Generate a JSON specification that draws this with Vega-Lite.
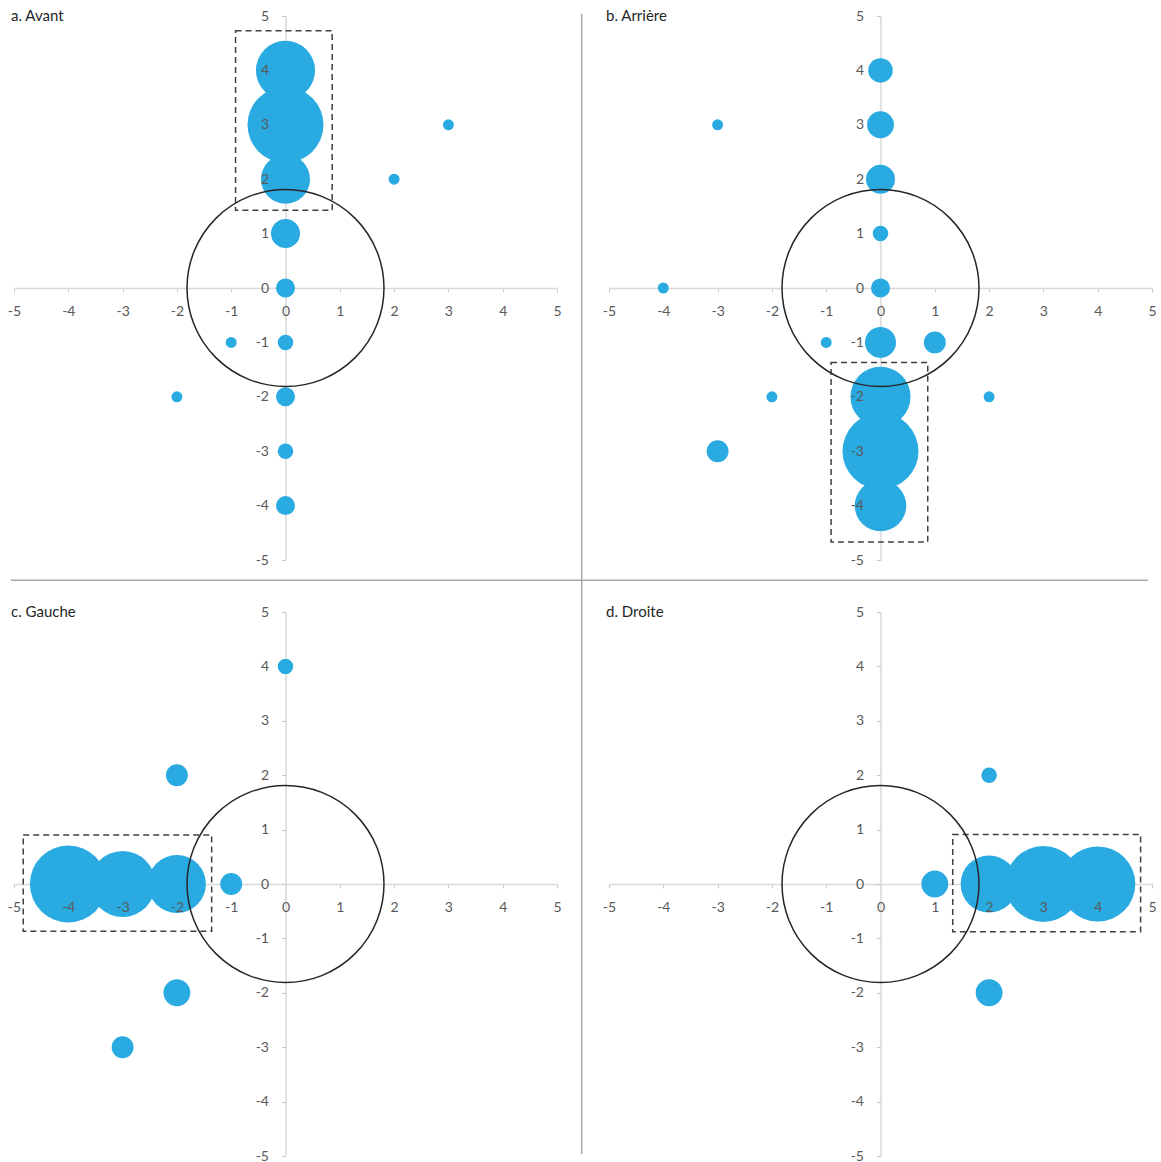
{
  "$schema": "https://vega.github.io/schema/vega-lite/v6.json",
  "autosize": {"type": "pad"},
  "padding": {"left": 7, "top": 9, "right": 0, "bottom": 0},
  "background": "white",
  "config": {
    "view": {"stroke": null},
    "font": "Lato",
    "title": {"anchor": "start", "frame": "group", "font": "Lato", "fontSize": 15, "fontWeight": "normal", "color": "#262626", "baseline": "top", "offset": -15, "dx": -3},
    "axis": {"grid": false, "title": null, "labelFont": "Lato", "labelFontSize": 14, "labelColor": "#595959", "labelOverlap": false, "labelFlush": false, "labelBound": false, "labelExpr": "'' + datum.value", "domainColor": "#d9d9d9", "domainWidth": 1.5, "tickColor": "#c8c8c8", "tickWidth": 1, "tickSize": 4}
  },
  "datasets": {
    "bubbles": [
      {"p": "a", "x": 0, "y": 4, "n": 29}, {"p": "a", "x": 0, "y": 3, "n": 48}, {"p": "a", "x": 0, "y": 2, "n": 20},
      {"p": "a", "x": 0, "y": 1, "n": 7}, {"p": "a", "x": 0, "y": 0, "n": 3}, {"p": "a", "x": 0, "y": -1, "n": 2},
      {"p": "a", "x": 0, "y": -2, "n": 3}, {"p": "a", "x": 0, "y": -3, "n": 2}, {"p": "a", "x": 0, "y": -4, "n": 3},
      {"p": "a", "x": 2, "y": 2, "n": 1}, {"p": "a", "x": 3, "y": 3, "n": 1}, {"p": "a", "x": -1, "y": -1, "n": 1},
      {"p": "a", "x": -2, "y": -2, "n": 1},
      {"p": "b", "x": 0, "y": 4, "n": 5}, {"p": "b", "x": 0, "y": 3, "n": 6}, {"p": "b", "x": 0, "y": 2, "n": 7},
      {"p": "b", "x": 0, "y": 1, "n": 2}, {"p": "b", "x": 0, "y": 0, "n": 3}, {"p": "b", "x": -3, "y": 3, "n": 1},
      {"p": "b", "x": -4, "y": 0, "n": 1}, {"p": "b", "x": 0, "y": -1, "n": 8}, {"p": "b", "x": 1, "y": -1, "n": 4},
      {"p": "b", "x": -1, "y": -1, "n": 1}, {"p": "b", "x": -2, "y": -2, "n": 1}, {"p": "b", "x": 2, "y": -2, "n": 1},
      {"p": "b", "x": -3, "y": -3, "n": 4}, {"p": "b", "x": 0, "y": -2, "n": 30}, {"p": "b", "x": 0, "y": -3, "n": 48},
      {"p": "b", "x": 0, "y": -4, "n": 22},
      {"p": "c", "x": 0, "y": 4, "n": 2}, {"p": "c", "x": -2, "y": 2, "n": 4}, {"p": "c", "x": -1, "y": 0, "n": 4},
      {"p": "c", "x": -2, "y": 0, "n": 28}, {"p": "c", "x": -3, "y": 0, "n": 36}, {"p": "c", "x": -4, "y": 0, "n": 49},
      {"p": "c", "x": -2, "y": -2, "n": 6}, {"p": "c", "x": -3, "y": -3, "n": 4},
      {"p": "d", "x": 1, "y": 0, "n": 6}, {"p": "d", "x": 2, "y": 0, "n": 27}, {"p": "d", "x": 3, "y": 0, "n": 48},
      {"p": "d", "x": 4, "y": 0, "n": 47}, {"p": "d", "x": 2, "y": 2, "n": 2}, {"p": "d", "x": 2, "y": -2, "n": 6}
    ],
    "zones": [
      {"p": "a", "x0": -0.92, "x1": 0.86, "y0": 1.43, "y1": 4.73},
      {"p": "b", "x0": -0.91, "x1": 0.87, "y0": -1.37, "y1": -4.67},
      {"p": "c", "x0": -4.83, "x1": -1.36, "y0": -0.87, "y1": 0.9},
      {"p": "d", "x0": 1.33, "x1": 4.79, "y0": -0.88, "y1": 0.91}
    ]
  },
  "columns": 2,
  "spacing": 52,
  "bounds": "flush",
  "concat": [
    {
      "title": "a. Avant",
      "width": 543, "height": 544,
      "resolve": {"axis": {"x": "independent", "y": "independent"}},
      "layer": [
        {
          "data": {"name": "bubbles"},
          "transform": [{"filter": "datum.p === 'a'"}],
          "mark": {"type": "circle", "color": "#29ABE2", "opacity": 1},
          "encoding": {
            "x": {"field": "x", "type": "quantitative", "scale": {"domain": [-5, 5], "nice": false, "zero": false},
                  "axis": {"orient": "bottom", "offset": -272, "values": [-5,-4,-3,-2,-1,0,1,2,3,4,5], "labels": false, "zindex": 0}},
            "y": {"field": "y", "type": "quantitative", "scale": {"domain": [-5, 5], "nice": false, "zero": false},
                  "axis": {"orient": "left", "offset": -271.5, "values": [-5,-4,-3,-2,-1,0,1,2,3,4,5], "labels": false, "zindex": 0}},
            "size": {"field": "n", "type": "quantitative", "scale": {"domain": [0, 48], "range": [0, 5776]}, "legend": null}
          }
        },
        {
          "data": {"name": "zones"},
          "transform": [{"filter": "datum.p === 'a'"}],
          "mark": {"type": "rect", "fill": null, "stroke": "#404040", "strokeWidth": 1.5, "strokeDash": [6, 4]},
          "encoding": {
            "x": {"field": "x0", "type": "quantitative",
                  "axis": {"orient": "bottom", "offset": -272, "values": [-5,-4,-3,-2,-1,0,1,2,3,4,5], "domain": false, "ticks": false, "labelPadding": 16, "zindex": 1}},
            "x2": {"field": "x1"},
            "y": {"field": "y0", "type": "quantitative",
                  "axis": {"orient": "left", "offset": -271.5, "values": [-5,-4,-3,-2,-1,0,1,2,3,4,5], "domain": false, "ticks": false, "labelPadding": 17, "zindex": 1}},
            "y2": {"field": "y1"}
          }
        },
        {
          "data": {"values": [{}]},
          "mark": {"type": "point", "shape": "circle", "filled": false, "stroke": "#262626", "strokeWidth": 1.5, "size": 38800, "opacity": 1},
          "encoding": {"x": {"datum": 0, "axis": null}, "y": {"datum": 0, "axis": null}}
        },
        {
          "data": {"values": [{}]},
          "mark": {"type": "rule", "color": "#a6a6a6", "strokeWidth": 1.5},
          "encoding": {"x": {"datum": 5.455, "axis": null}, "y": {"datum": 5.04, "axis": null}, "y2": {"datum": -15.92}}
        },
        {
          "data": {"values": [{}]},
          "mark": {"type": "rule", "color": "#a6a6a6", "strokeWidth": 1.5},
          "encoding": {"y": {"datum": -5.37, "axis": null}, "x": {"datum": -5.055, "axis": null}, "x2": {"datum": 15.88}}
        }
      ]
    },
    {
      "title": "b. Arrière",
      "width": 543, "height": 544,
      "resolve": {"axis": {"x": "independent", "y": "independent"}},
      "layer": [
        {
          "data": {"name": "bubbles"},
          "transform": [{"filter": "datum.p === 'b'"}],
          "mark": {"type": "circle", "color": "#29ABE2", "opacity": 1},
          "encoding": {
            "x": {"field": "x", "type": "quantitative", "scale": {"domain": [-5, 5], "nice": false, "zero": false},
                  "axis": {"orient": "bottom", "offset": -272, "values": [-5,-4,-3,-2,-1,0,1,2,3,4,5], "labels": false, "zindex": 0}},
            "y": {"field": "y", "type": "quantitative", "scale": {"domain": [-5, 5], "nice": false, "zero": false},
                  "axis": {"orient": "left", "offset": -271.5, "values": [-5,-4,-3,-2,-1,0,1,2,3,4,5], "labels": false, "zindex": 0}},
            "size": {"field": "n", "type": "quantitative", "scale": {"domain": [0, 48], "range": [0, 5776]}, "legend": null}
          }
        },
        {
          "data": {"name": "zones"},
          "transform": [{"filter": "datum.p === 'b'"}],
          "mark": {"type": "rect", "fill": null, "stroke": "#404040", "strokeWidth": 1.5, "strokeDash": [6, 4]},
          "encoding": {
            "x": {"field": "x0", "type": "quantitative",
                  "axis": {"orient": "bottom", "offset": -272, "values": [-5,-4,-3,-2,-1,0,1,2,3,4,5], "domain": false, "ticks": false, "labelPadding": 16, "zindex": 1}},
            "x2": {"field": "x1"},
            "y": {"field": "y0", "type": "quantitative",
                  "axis": {"orient": "left", "offset": -271.5, "values": [-5,-4,-3,-2,-1,0,1,2,3,4,5], "domain": false, "ticks": false, "labelPadding": 17, "zindex": 1}},
            "y2": {"field": "y1"}
          }
        },
        {
          "data": {"values": [{}]},
          "mark": {"type": "point", "shape": "circle", "filled": false, "stroke": "#262626", "strokeWidth": 1.5, "size": 38800, "opacity": 1},
          "encoding": {"x": {"datum": 0, "axis": null}, "y": {"datum": 0, "axis": null}}
        }
      ]
    },
    {
      "title": "c. Gauche",
      "width": 543, "height": 544,
      "resolve": {"axis": {"x": "independent", "y": "independent"}},
      "layer": [
        {
          "data": {"name": "bubbles"},
          "transform": [{"filter": "datum.p === 'c'"}],
          "mark": {"type": "circle", "color": "#29ABE2", "opacity": 1},
          "encoding": {
            "x": {"field": "x", "type": "quantitative", "scale": {"domain": [-5, 5], "nice": false, "zero": false},
                  "axis": {"orient": "bottom", "offset": -272, "values": [-5,-4,-3,-2,-1,0,1,2,3,4,5], "labels": false, "zindex": 0}},
            "y": {"field": "y", "type": "quantitative", "scale": {"domain": [-5, 5], "nice": false, "zero": false},
                  "axis": {"orient": "left", "offset": -271.5, "values": [-5,-4,-3,-2,-1,0,1,2,3,4,5], "labels": false, "zindex": 0}},
            "size": {"field": "n", "type": "quantitative", "scale": {"domain": [0, 48], "range": [0, 5776]}, "legend": null}
          }
        },
        {
          "data": {"name": "zones"},
          "transform": [{"filter": "datum.p === 'c'"}],
          "mark": {"type": "rect", "fill": null, "stroke": "#404040", "strokeWidth": 1.5, "strokeDash": [6, 4]},
          "encoding": {
            "x": {"field": "x0", "type": "quantitative",
                  "axis": {"orient": "bottom", "offset": -272, "values": [-5,-4,-3,-2,-1,0,1,2,3,4,5], "domain": false, "ticks": false, "labelPadding": 16, "zindex": 1}},
            "x2": {"field": "x1"},
            "y": {"field": "y0", "type": "quantitative",
                  "axis": {"orient": "left", "offset": -271.5, "values": [-5,-4,-3,-2,-1,0,1,2,3,4,5], "domain": false, "ticks": false, "labelPadding": 17, "zindex": 1}},
            "y2": {"field": "y1"}
          }
        },
        {
          "data": {"values": [{}]},
          "mark": {"type": "point", "shape": "circle", "filled": false, "stroke": "#262626", "strokeWidth": 1.5, "size": 38800, "opacity": 1},
          "encoding": {"x": {"datum": 0, "axis": null}, "y": {"datum": 0, "axis": null}}
        }
      ]
    },
    {
      "title": "d. Droite",
      "width": 543, "height": 544,
      "resolve": {"axis": {"x": "independent", "y": "independent"}},
      "layer": [
        {
          "data": {"name": "bubbles"},
          "transform": [{"filter": "datum.p === 'd'"}],
          "mark": {"type": "circle", "color": "#29ABE2", "opacity": 1},
          "encoding": {
            "x": {"field": "x", "type": "quantitative", "scale": {"domain": [-5, 5], "nice": false, "zero": false},
                  "axis": {"orient": "bottom", "offset": -272, "values": [-5,-4,-3,-2,-1,0,1,2,3,4,5], "labels": false, "zindex": 0}},
            "y": {"field": "y", "type": "quantitative", "scale": {"domain": [-5, 5], "nice": false, "zero": false},
                  "axis": {"orient": "left", "offset": -271.5, "values": [-5,-4,-3,-2,-1,0,1,2,3,4,5], "labels": false, "zindex": 0}},
            "size": {"field": "n", "type": "quantitative", "scale": {"domain": [0, 48], "range": [0, 5776]}, "legend": null}
          }
        },
        {
          "data": {"name": "zones"},
          "transform": [{"filter": "datum.p === 'd'"}],
          "mark": {"type": "rect", "fill": null, "stroke": "#404040", "strokeWidth": 1.5, "strokeDash": [6, 4]},
          "encoding": {
            "x": {"field": "x0", "type": "quantitative",
                  "axis": {"orient": "bottom", "offset": -272, "values": [-5,-4,-3,-2,-1,0,1,2,3,4,5], "domain": false, "ticks": false, "labelPadding": 16, "zindex": 1}},
            "x2": {"field": "x1"},
            "y": {"field": "y0", "type": "quantitative",
                  "axis": {"orient": "left", "offset": -271.5, "values": [-5,-4,-3,-2,-1,0,1,2,3,4,5], "domain": false, "ticks": false, "labelPadding": 17, "zindex": 1}},
            "y2": {"field": "y1"}
          }
        },
        {
          "data": {"values": [{}]},
          "mark": {"type": "point", "shape": "circle", "filled": false, "stroke": "#262626", "strokeWidth": 1.5, "size": 38800, "opacity": 1},
          "encoding": {"x": {"datum": 0, "axis": null}, "y": {"datum": 0, "axis": null}}
        }
      ]
    }
  ]
}
